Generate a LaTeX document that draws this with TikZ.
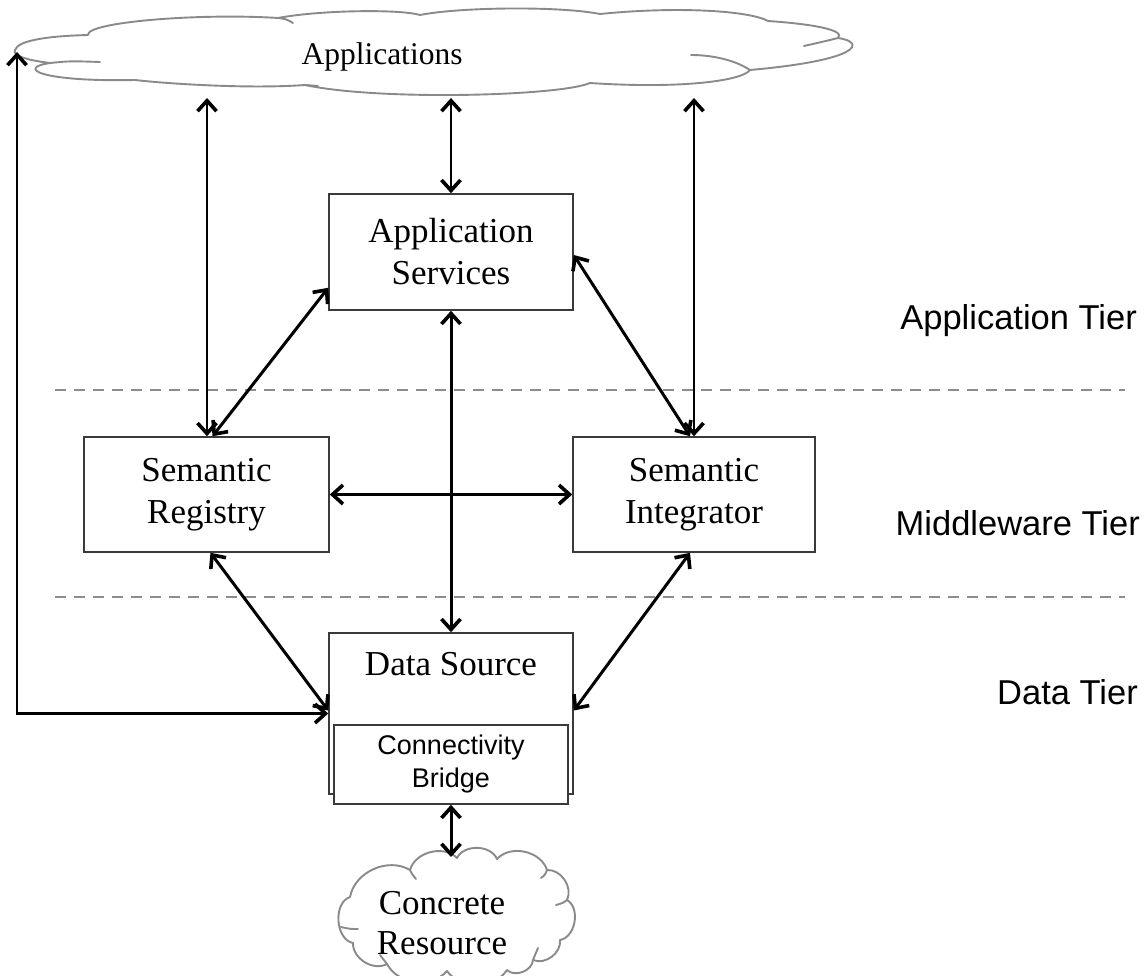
\documentclass[tikz,border=0pt]{standalone}
\usepackage{fontspec}
\setmainfont{Liberation Serif}
\newfontfamily\arialfont{Liberation Sans}
\usetikzlibrary{arrows.meta,calc}
\definecolor{boxgray}{HTML}{3A3A3A}
\definecolor{cloudgray}{HTML}{8A8A8A}
\definecolor{dashgray}{HTML}{8C8C8C}
\begin{document}
\begin{tikzpicture}[x=1pt,y=-1pt,
  box/.style={draw=boxgray, line width=1.6pt, fill=white, inner sep=0pt, align=center, font=\fontsize{35}{42}\selectfont},
  cloudline/.style={draw=cloudgray, line width=1.9pt, line join=round, line cap=round},
  dashline/.style={draw=dashgray, line width=2.8pt, dash pattern=on 11pt off 8pt},
  tipb/.tip={Straight Barb[length=10.5pt,width=19pt,line width=3.6pt 0]},
  thickarrow/.style={tipb-tipb, line width=3pt},
  thinarrow/.style={tipb-tipb, line width=1.8pt},
  looparrow/.style={tipb-tipb, line width=2.1pt},
  tier/.style={font=\arialfont\fontsize{34.5}{40}\selectfont, anchor=base east, inner sep=0pt},
  plain/.style={font=\fontsize{35}{40}\selectfont, align=center, inner sep=0pt}]
\fill[white] (0,0) rectangle (1148,976);
\useasboundingbox (0,0) rectangle (1148,976);

% dashed tier separators
\coordinate (d1a) at (55,390); \coordinate (d1b) at (1125,390);
\coordinate (d2a) at (55,597); \coordinate (d2b) at (1125,597);
\draw[dashline] (d1a) -- (d1b);
\draw[dashline] (d2a) -- (d2b);

% top cloud
\draw[cloudline, fill=white] (15,50)
  .. controls (18,40) and (50,36) .. (88,35)
  .. controls (86,22) and (200,13) .. (278,18)
  .. controls (320,10) and (400,9) .. (420,15)
  .. controls (460,7) and (560,6) .. (600,14)
  .. controls (680,6) and (750,11) .. (768,21)
  .. controls (812,24) and (846,30) .. (838,38)
  .. controls (866,42) and (862,60) .. (750,70)
  .. controls (742,81) and (680,89) .. (590,83)
  .. controls (560,96) and (380,101) .. (305,85)
  .. controls (250,89) and (170,84) .. (135,80)
  .. controls (40,82) and (16,68) .. (50,63)
  .. controls (25,60) and (12,55) .. (15,50) -- cycle;
\draw[cloudline] (50,63) .. controls (70,61) .. (100,62);
\draw[cloudline] (278,18) .. controls (286,19) .. (293,23);
\draw[cloudline] (750,70) .. controls (735,60) and (712,55) .. (691,55);
\draw[cloudline] (838,38) .. controls (826,41) .. (804,46);
\draw[cloudline] (135,80) -- (123,80);
\draw[cloudline] (305,85) -- (318,86);
\node[font=\fontsize{31.5}{36}\selectfont, inner sep=0pt] (apps) at (382,57) {Applications};

\coordinate (cL) at (207,98);
\coordinate (cM) at (451,98);
\coordinate (cR) at (694,98);
\coordinate (cLoop) at (17,52);

% boxes
\node[box, minimum width=244pt, minimum height=116pt] (appsvc) at (451,252) {Application\\Services};
\node[box, minimum width=245pt, minimum height=115pt] (reg) at (206.5,494.5) {Semantic\\Registry};
\node[box, minimum width=242pt, minimum height=115pt] (integ) at (694,494.5) {Semantic\\Integrator};
\node[box, minimum width=244pt, minimum height=161pt] (ds) at (451,713.5) {};
\node[plain, anchor=base] (dstext) at (451,675) {Data Source};
\node[box, minimum width=234pt, minimum height=79pt, font=\arialfont\fontsize{27}{33}\selectfont] (bridge) at (451,764.5) {Connectivity\\Bridge};

% concrete resource cloud
\draw[cloudline, fill=white] (350,897)
  to[bend left=55] (410,870)
  to[bend left=60] (457,858)
  to[bend left=65] (497,859)
  to[bend left=60] (547,870)
  to[bend left=60] (567,900)
  to[bend left=70] (560,940)
  to[bend left=60] (533,960)
  to[bend left=65] (507,970)
  to[bend left=55] (447,971)
  to[bend left=55] (387,964)
  to[bend left=60] (353,943)
  to[bend left=75] (350,897) -- cycle;
\draw[cloudline] (341,927) .. controls (350,929) .. (358,929);
\draw[cloudline] (410,870) .. controls (412,874) .. (416,879);
\draw[cloudline] (547,870) .. controls (545,875) .. (541,878);
\draw[cloudline] (567,900) .. controls (563,903) .. (556,905);
\draw[cloudline] (533,960) .. controls (535,955) .. (538,948);
\draw[cloudline] (387,964) .. controls (383,960) .. (380,955);
\coordinate (resTop) at (451,857);
\node[plain] (restext) at (442,923) {Concrete\\Resource};

% tier labels
\node[tier] (t1) at (1137,329) {Application Tier};
\node[tier] (t2) at (1140,535) {Middleware Tier};
\node[tier] (t3) at (1138,704) {Data Tier};

% connectors
\draw[thinarrow] (cL) -- (cL |- reg.north);
\draw[thinarrow] (cM) -- (appsvc.north);
\draw[thinarrow] (cR) -- (cR |- integ.north);
\draw[thickarrow] ([xshift=6pt]reg.north) -- ([yshift=23pt]appsvc.south west);
\draw[thickarrow] ([yshift=-3pt]appsvc.east) -- ([xshift=-4pt]integ.north);
\draw[thickarrow] (appsvc.south) -- (ds.north);
\draw[thickarrow] (reg.east) -- (integ.west);
\draw[thickarrow] ([xshift=4pt]reg.south) -- ([yshift=3pt]ds.west);
\draw[thickarrow] ([xshift=-4pt]integ.south) -- ([yshift=3pt]ds.east);
\draw[looparrow] (cLoop) |- (ds.west);
\draw[thickarrow] (bridge.south) -- (resTop);
\end{tikzpicture}
\end{document}
